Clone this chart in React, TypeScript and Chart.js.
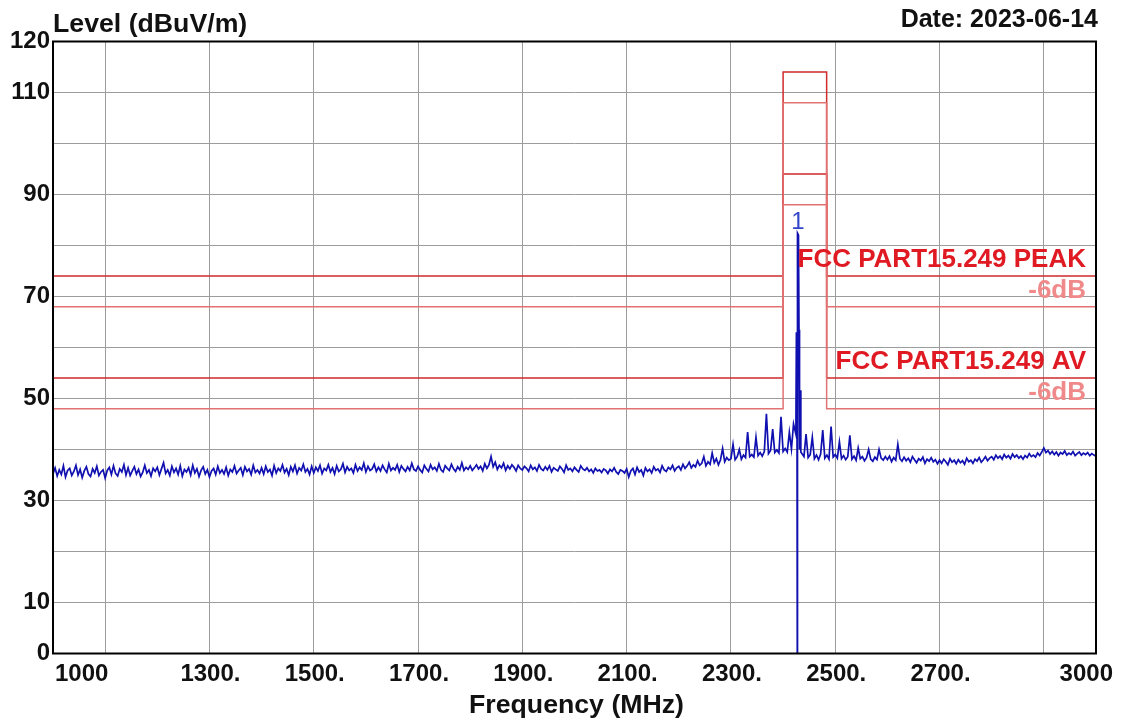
import React, { useEffect, useRef } from 'react';
import { Chart, registerables } from 'chart.js';

Chart.register(...registerables);

// ---- Sweep (blue trace), 4 MHz steps from 1000 MHz; null = covered by PEAK arrays ----
const SWEEP_START_MHZ = 1000;
const SWEEP_STEP_MHZ = 4;
const SWEEP_LEVEL: (number | null)[] = [
  // 1000-1096
  35.2, 36.4, 34.8, 36.0, 35.1, 36.8, 34.6, 35.9, 36.3, 34.9, 35.7, 36.9, 35.0, 36.1, 34.5, 35.8, 36.6, 35.2, 34.7, 36.2, 35.4, 36.7, 34.9, 35.6, 36.0,
  // 1100-1196
  34.4, 35.9, 36.5, 35.1, 36.8, 35.3, 34.8, 36.2, 35.6, 37.0, 35.0, 36.4, 34.9, 35.8, 36.6, 35.2, 36.1, 34.7, 35.5, 36.9, 35.4, 36.0, 34.8, 36.3, 35.7,
  // 1200-1296
  36.5, 35.0, 36.2, 37.4, 35.3, 36.0, 34.9, 36.7, 35.5, 36.3, 35.1, 36.8, 34.8, 36.1, 35.6, 36.4, 35.0, 36.9, 35.4, 36.2, 34.7, 35.9, 36.6, 35.2, 36.0,
  // 1300-1396
  34.6, 35.8, 36.3, 35.1, 36.7, 35.4, 36.0, 35.2, 36.5, 34.9, 36.1, 35.6, 36.8, 35.3, 35.9, 36.4, 35.0, 36.6, 35.7, 36.2, 35.1, 36.9, 35.5, 36.0, 35.3,
  // 1400-1496
  36.4, 35.2, 36.7, 35.6, 36.1, 34.9, 36.8, 35.4, 36.3, 35.8, 37.0, 35.5, 36.2, 35.0, 36.6, 35.7, 36.9, 35.3, 36.4, 35.9, 37.1, 35.6, 36.2, 35.1, 36.7,
  // 1500-1596
  35.4, 36.5, 35.8, 36.9, 35.3, 36.3, 35.9, 37.0, 35.6, 36.4, 35.2, 36.8, 35.7, 36.1, 37.2, 35.5, 36.6, 35.9, 36.3, 35.4, 37.0, 35.8, 36.5, 36.0, 37.3,
  // 1600-1696
  35.6, 36.7, 35.9, 36.2, 37.1, 35.7, 36.5, 35.8, 36.9, 36.1, 35.5, 37.2, 35.9, 36.4, 36.0, 37.0, 35.6, 36.8, 36.2, 35.7, 36.6, 35.9, 37.3, 36.1, 35.8,
  // 1700-1796
  36.7, 36.0, 35.5, 36.9, 36.2, 35.7, 37.0, 36.1, 36.5, 35.8, 37.2, 36.0, 35.6, 36.8, 36.3, 35.9, 37.1, 36.2, 35.7, 36.6, 36.0, 37.4, 35.9, 36.5, 36.1,
  // 1800-1896
  36.8, 35.9, 36.4, 37.0, 36.2, 36.7, 35.8, 37.2, 36.3, 37.0, 38.6, 36.6, 37.5, 36.1, 36.9, 36.4, 37.3, 35.9, 36.8, 36.2, 37.0, 36.5, 35.8, 36.9, 36.3,
  // 1900-1996
  36.0, 36.7, 36.3, 35.7, 36.9, 36.1, 36.5, 35.8, 37.0, 36.2, 35.9, 36.6, 36.0, 36.8, 35.6, 36.4, 36.1, 35.8, 36.7, 36.2, 35.5, 36.9, 36.0, 36.3, 35.7,
  // 2000-2096
  36.5, 36.0, 35.6, 36.8, 36.2, 35.9, 36.4, 35.7, 36.1, 35.4, 36.3, 35.8, 36.0, 35.5, 36.2, 35.9, 35.3, 36.1, 35.7, 36.4, 35.6, 35.2, 36.0, 35.8, 35.4,
  // 2100-2196
  36.2, 34.6, 35.8, 36.3, 35.1, 36.5, 35.6, 36.0, 34.9, 36.4, 35.7, 36.1, 35.4, 36.6, 35.9, 36.2, 35.5, 36.8, 36.0, 35.7, 36.5, 36.1, 36.9, 35.8, 36.4,
  // 2200-2296
  36.7, 36.0, 37.1, 36.3, 36.8, 37.5, 36.4, 37.0, 36.6, 37.8, 36.9, 37.3, 38.6, 36.8, 37.6, 37.1, 39.3, 37.4, 38.2, 37.0, 38.0, 40.2, 37.6, 38.4, 37.9,
  // 2300-2396
  38.2, 41.0, 38.0, 38.6, 40.0, 38.1, 38.9, 38.4, 43.4, 38.6, 39.0, 38.5, 42.4, 38.8, 39.4, 38.7, 39.6, 47.0, 39.2, 39.8, 44.0, 39.4, 39.9, 39.3, 46.4,
  // 2400-2496
  39.6, 40.2, 39.5, 43.4, 40.1, 45.0, null, null, null, 39.2, 38.6, 43.0, 38.4, 39.0, 42.4, 38.2, 38.9, 38.0, 39.1, 43.8, 38.3, 38.9, 38.1, 44.5, 38.5,
  // 2500-2596
  39.0, 38.3, 41.5, 38.2, 38.8, 38.0, 38.6, 42.8, 38.1, 38.7, 37.9, 40.3, 38.2, 38.6, 37.8, 38.4, 40.0, 38.1, 37.7, 38.5, 38.0, 40.0, 38.3, 37.9, 38.6,
  // 2600-2696
  38.0, 38.7, 37.6, 38.4, 37.9, 41.0, 38.2, 37.7, 38.5, 37.8, 38.3, 37.5, 38.6, 38.0, 37.4, 38.2, 37.8, 38.5, 37.3, 38.1, 37.7, 38.4, 37.6, 38.0, 37.2,
  // 2700-2796
  37.9, 37.3, 38.1, 37.6, 37.0, 38.2, 37.5, 37.9, 37.2, 38.0, 37.4, 37.8, 37.1, 38.3, 37.6, 37.9, 37.3, 38.1, 37.7, 38.4, 37.5, 38.0, 38.6, 37.8, 38.3,
  // 2800-2896
  38.6, 38.0, 38.9, 38.3, 38.7, 38.1, 39.0, 38.4, 38.8, 38.2, 39.1, 38.5, 38.9, 38.3, 38.7, 38.1, 38.8, 38.4, 39.2, 38.6, 38.9, 38.5, 39.3, 38.8, 39.5,
  // 2900-2996
  40.3, 39.4, 39.8, 39.1, 39.6, 39.0, 39.5, 38.8, 39.4, 39.1, 39.7, 38.9, 39.3, 39.0, 39.6, 38.8, 39.2, 39.5, 38.9, 39.3, 39.0, 39.4, 38.8, 39.2, 38.9,
  // 3000
  38.7,
];

// ---- Carrier peak detail ----
const PEAK_FREQ = [2424.5, 2425.5, 2426.5, 2427.2, 2427.6, 2429.5, 2430.5, 2431.5, 2432.5, 2434];
const PEAK_LEVEL = [43.0, 63.0, 62.0, 0, 82.4, 82.0, 63.5, 40.0, 51.6, 39.5];

const MARKER_FREQ = 2428.2;
const MARKER_LEVEL = 82.4;
const MARKER_LABEL = '1';

// ---- Limit lines (restricted band 2400-2483.5 MHz) ----
const LIMIT_FREQ = [1000, 2400, 2400, 2483.5, 2483.5, 3000];
const PEAK_LIMIT = [74, 74, 114, 114, 74, 74];
const PEAK_MARGIN = [68, 68, 108, 108, 68, 68];
const AV_LIMIT = [54, 54, 94, 94, 54, 54];
const AV_MARGIN = [48, 48, 88, 88, 48, 48];

const LIMIT_LABELS = ['FCC PART15.249 PEAK', '-6dB', 'FCC PART15.249 AV', '-6dB'];
const LIMIT_LABEL_LEVELS = [74, 68, 54, 48];

// ---- Axes ----
const X_TICK_VALUES = [1000, 1300, 1500, 1700, 1900, 2100, 2300, 2500, 2700, 3000];
const X_TICK_LABELS = ['1000', '1300.', '1500.', '1700.', '1900.', '2100.', '2300.', '2500.', '2700.', '3000'];
const Y_TICK_VALUES = [0, 10, 30, 50, 70, 90, 110, 120];

const TITLE_Y = 'Level (dBuV/m)';
const TITLE_X = 'Frequency (MHz)';
const DATE_TEXT = 'Date: 2023-06-14';

const FONT = '"Liberation Sans", Arial, Helvetica, sans-serif';
const DARK_RED = '#d02a2a';
const LIGHT_RED = '#e27272';
const TRACE_BLUE = '#1010b0';

const overlayPlugin = {
  id: 'overlay',
  afterDraw(chart: any) {
    const { ctx, chartArea: a, scales } = chart;
    const x = scales.x;
    const y = scales.y;
    ctx.save();

    // frame
    ctx.strokeStyle = '#000';
    ctx.lineWidth = 2;
    ctx.strokeRect(a.left, a.top, a.right - a.left, a.bottom - a.top);

    // x tick labels
    ctx.fillStyle = '#111';
    ctx.font = `bold 24px ${FONT}`;
    ctx.textBaseline = 'middle';
    X_TICK_VALUES.forEach((v, i) => {
      const px = x.getPixelForValue(v);
      if (i === 0) {
        ctx.textAlign = 'left';
        ctx.fillText(X_TICK_LABELS[i], px + 2, a.bottom + 21);
      } else if (i === X_TICK_VALUES.length - 1) {
        ctx.textAlign = 'right';
        ctx.fillText(X_TICK_LABELS[i], px + 17, a.bottom + 21);
      } else {
        ctx.textAlign = 'center';
        ctx.fillText(X_TICK_LABELS[i], px + 1, a.bottom + 21);
      }
    });

    // titles
    ctx.textBaseline = 'alphabetic';
    ctx.font = `bold 26.7px ${FONT}`;
    ctx.textAlign = 'left';
    ctx.fillText(TITLE_Y, a.left, 32);
    ctx.textAlign = 'center';
    ctx.fillText(TITLE_X, (a.left + a.right) / 2 + 2, 713);
    ctx.font = `bold 25px ${FONT}`;
    ctx.textAlign = 'right';
    ctx.fillText(DATE_TEXT, a.right + 2, 27);

    // limit labels
    ctx.font = `bold 26px ${FONT}`;
    ctx.textAlign = 'right';
    LIMIT_LABELS.forEach((t, i) => {
      ctx.fillStyle = i % 2 === 0 ? '#e01a22' : '#f08a8a';
      ctx.fillText(t, a.right - 10, y.getPixelForValue(LIMIT_LABEL_LEVELS[i]) - 9);
    });

    // marker label
    ctx.font = `24px ${FONT}`;
    ctx.fillStyle = '#3346c8';
    ctx.textAlign = 'center';
    ctx.fillText(MARKER_LABEL, x.getPixelForValue(MARKER_FREQ), y.getPixelForValue(MARKER_LEVEL) - 4);

    ctx.restore();
  },
};

export default function App() {
  const ref = useRef<HTMLCanvasElement | null>(null);

  useEffect(() => {
    if (!ref.current) return;
    const trace: { x: number; y: number }[] = [];
    SWEEP_LEVEL.forEach((v, i) => {
      if (v !== null) trace.push({ x: SWEEP_START_MHZ + i * SWEEP_STEP_MHZ, y: v });
    });
    PEAK_FREQ.forEach((f, i) => trace.push({ x: f, y: PEAK_LEVEL[i] }));
    trace.sort((p, q) => p.x - q.x);

    const limitSet = (vals: number[], color: string) => ({
      data: LIMIT_FREQ.map((f, i) => ({ x: f, y: vals[i] })),
      borderColor: color,
      borderWidth: 1.5,
      pointRadius: 0,
      tension: 0,
      fill: false,
    });

    const chart = new Chart(ref.current, {
      type: 'line',
      data: {
        datasets: [
          limitSet(AV_MARGIN, LIGHT_RED),
          limitSet(PEAK_MARGIN, LIGHT_RED),
          limitSet(AV_LIMIT, DARK_RED),
          limitSet(PEAK_LIMIT, DARK_RED),
          {
            data: trace,
            borderColor: TRACE_BLUE,
            borderWidth: 1.7,
            pointRadius: 0,
            tension: 0,
            fill: false,
          },
        ],
      },
      options: {
        responsive: false,
        animation: false,
        parsing: true,
        layout: { padding: { left: 0, right: 26, top: 41.5, bottom: 0 } },
        plugins: {
          legend: { display: false },
          tooltip: { enabled: false },
          title: { display: false },
        },
        scales: {
          x: {
            type: 'linear',
            min: 1000,
            max: 3000,
            afterFit: (s: any) => {
              s.height = 71.5;
            },
            ticks: { stepSize: 100, display: false },
            grid: {
              drawTicks: false,
              lineWidth: 1,
              color: (c: any) =>
                c.tick && Math.round(c.tick.value) % 200 === 100 ? '#9c9c9c' : 'rgba(0,0,0,0)',
            },
            border: { display: false },
          },
          y: {
            type: 'linear',
            min: 0,
            max: 120,
            afterFit: (s: any) => {
              s.width = 53;
            },
            ticks: {
              stepSize: 10,
              autoSkip: false,
              padding: 3,
              color: '#111',
              font: { family: FONT, size: 24, weight: 'bold' },
              callback: (v: any) => (Y_TICK_VALUES.includes(Number(v)) ? String(v) : ''),
            },
            grid: { drawTicks: false, color: '#9c9c9c', lineWidth: 1 },
            border: { display: false },
          },
        },
      },
      plugins: [overlayPlugin],
    });
    return () => chart.destroy();
  }, []);

  return (
    <div style={{ position: 'absolute', left: 0, top: 0, width: 1122, height: 725, background: '#fff' }}>
      <canvas ref={ref} width={1122} height={725} style={{ display: 'block' }} />
    </div>
  );
}
